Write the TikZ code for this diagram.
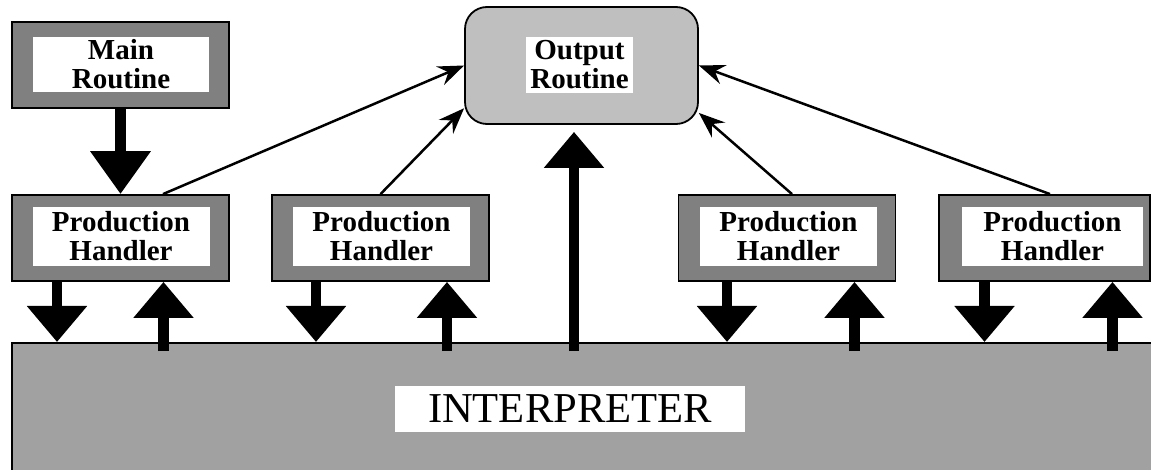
\documentclass[tikz,border=0pt]{standalone}
\usepackage{fontspec}
\setmainfont{Liberation Serif}
\usetikzlibrary{arrows.meta}

\begin{document}
\begin{tikzpicture}[x=0.5pt, y=-0.5pt,
        % Kinds of boxes
        frame/.style={
            rectangle, draw=black, line width=0.9pt, fill=black!50,
            minimum width=108.5pt, minimum height=43pt, inner sep=0pt
        },
        plate/.style={
            rectangle, fill=white, inner sep=0pt, align=center,
            minimum width=88.5pt, minimum height=29.5pt,
            font=\fontsize{14.5}{14.5}\selectfont\bfseries
        },
        fat/.style={line width=5.25pt, -{Triangle[width=29pt,length=18pt]}},
        feed/.style={line width=1.25pt, -{Stealth[length=13pt,width=10pt,inset=4.5pt]}}
    ]
        \useasboundingbox (0,0) rectangle (1151,470);
        \clip (0,0) rectangle (1151,470);

        % Routines
        \node[frame] (main) at (120.5,65) {};
        \node[plate, minimum width=88pt, minimum height=27.5pt] (mainlbl) at (121,64.5) {Main\\Routine};

        \node[rectangle, draw=black, line width=0.9pt, fill=black!25, rounded corners=11pt,
              minimum width=116.5pt, minimum height=58.5pt] (out) at (581.5,65.5) {};
        \node[plate, minimum width=53.5pt, minimum height=28pt] (outlbl) at (579.5,65) {Output\\Routine};

        % Production handlers
        \node[frame] (ph1) at (120.5,238) {};
        \node[plate] (ph1lbl) at (121,236.5) {Production\\Handler};
        \node[frame] (ph2) at (380.5,238) {};
        \node[plate] (ph2lbl) at (381.5,236.5) {Production\\Handler};
        \node[frame] (ph3) at (787,238) {};
        \node[plate] (ph3lbl) at (788.5,236.5) {Production\\Handler};
        \node[frame, minimum width=105.5pt] (ph4) at (1044.5,238) {};
        \node[plate, minimum width=90.5pt] (ph4lbl) at (1052.5,236.5) {Production\\Handler};

        % Interpreter
        \node[rectangle, draw=black, line width=1pt, fill=black!37, inner sep=0pt,
              minimum width=600pt, minimum height=100pt] (interp) at (612,443) {};
        \node[rectangle, fill=white, inner sep=0pt, minimum width=175pt, minimum height=23pt,
              font=\fontsize{21.3}{21.3}\selectfont] (interplbl) at (570,409) {INTERPRETER};

        % Thick arrows
        \draw[fat, -{Triangle[width=29pt,length=21.5pt]}] (main.south) -- (ph1.north);
        \draw[fat] ([xshift=-31.75pt]ph1.south) -- ([xshift=-31.75pt]ph1.south |- interp.north);
        \draw[fat] ([xshift=21.5pt,yshift=-4.5pt]ph1.south |- interp.north) -- ([xshift=21.5pt]ph1.south);
        \draw[fat] ([xshift=-32.25pt]ph2.south) -- ([xshift=-32.25pt]ph2.south |- interp.north);
        \draw[fat] ([xshift=33.25pt,yshift=-4.5pt]ph2.south |- interp.north) -- ([xshift=33.25pt]ph2.south);
        \draw[fat] ([xshift=-30pt]ph3.south) -- ([xshift=-30pt]ph3.south |- interp.north);
        \draw[fat] ([xshift=33.75pt,yshift=-4.5pt]ph3.south |- interp.north) -- ([xshift=33.75pt]ph3.south);
        \draw[fat] ([xshift=-30pt]ph4.south) -- ([xshift=-30pt]ph4.south |- interp.north);
        \draw[fat] ([xshift=34pt,yshift=-4.5pt]ph4.south |- interp.north) -- ([xshift=34pt]ph4.south);
        \draw[fat, shorten >=3.5pt] ([xshift=-3.75pt,yshift=-4.5pt]out.south |- interp.north) -- ([xshift=-3.75pt]out.south);

        % Thin arrows to the output routine
        \draw[feed] ([xshift=21.25pt]ph1.north) -- (out.west);
        \draw[feed] (ph2.north) -- (out.200);
        \draw[feed] ([xshift=2.5pt]ph3.north) -- (out.-22);
        \draw[feed] ([xshift=2.75pt]ph4.north) -- (out.east);

    \end{tikzpicture}
\end{document}
